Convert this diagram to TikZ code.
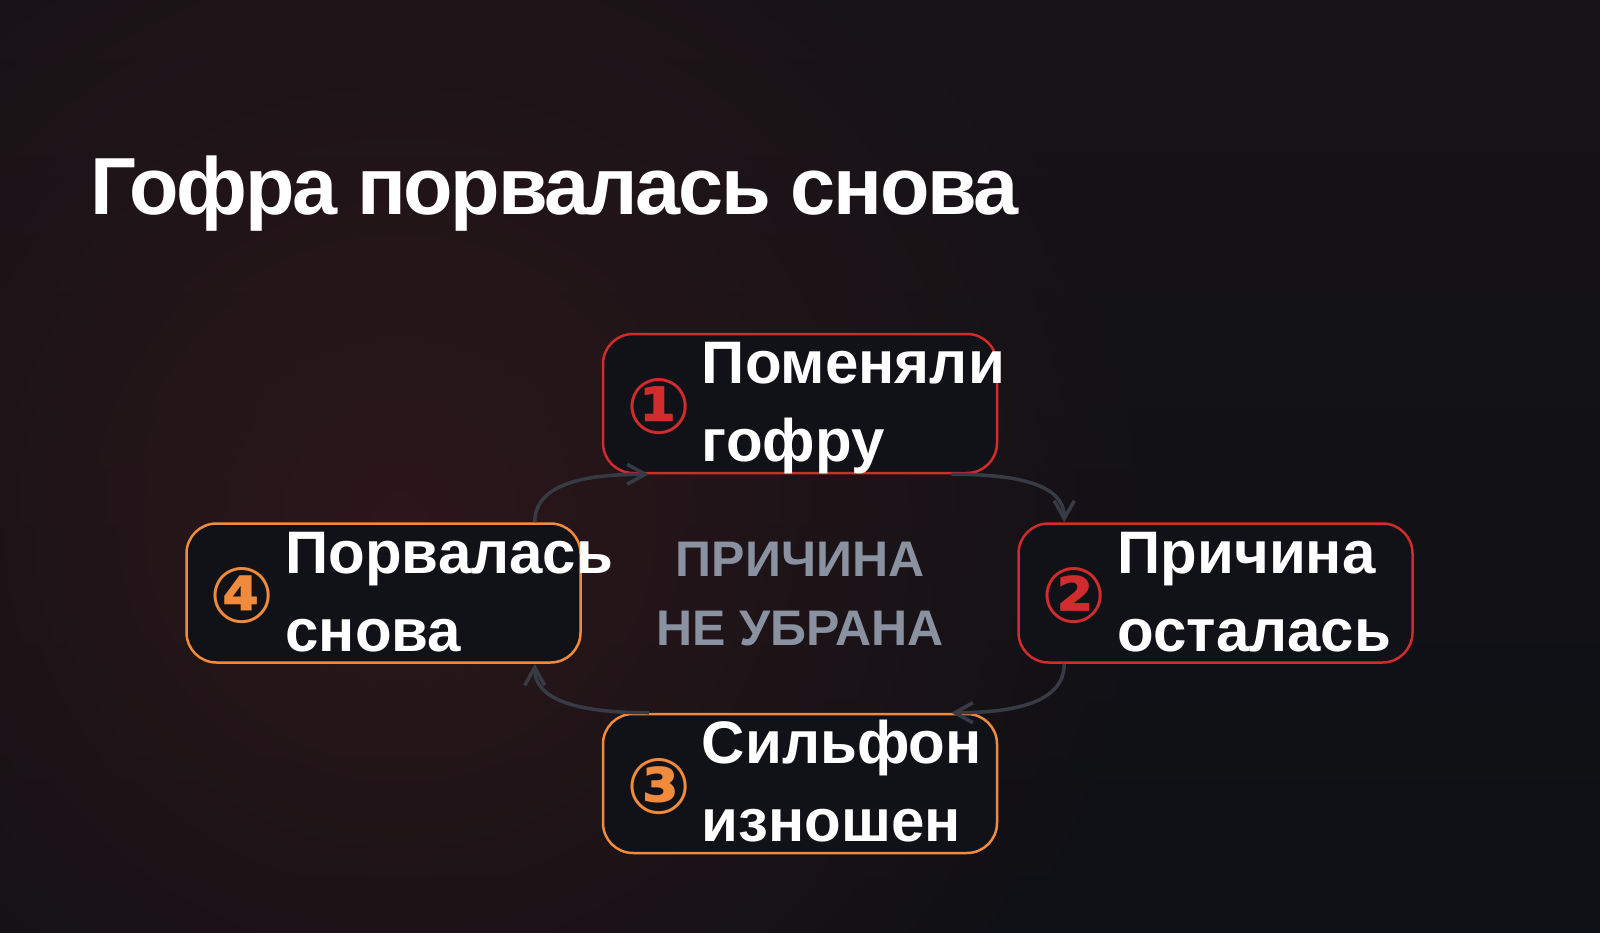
\documentclass[tikz,border=0pt]{standalone}
\usepackage{fontspec}
\setmainfont{Liberation Sans}
\newfontfamily\circfont{DejaVu Sans}
\usetikzlibrary{positioning,arrows.meta,fadings}

\definecolor{bgtop}{HTML}{161317}
\definecolor{bgbottom}{HTML}{0E1015}
\definecolor{bgglow}{HTML}{2C171A}
\definecolor{boxfill}{HTML}{111217}
\definecolor{stepred}{HTML}{D02B2D}
\definecolor{steporange}{HTML}{F08A3C}
\definecolor{loopgray}{HTML}{363B45}
\definecolor{causegray}{HTML}{8A92A2}

\tikzfading[name=glowfade, inner color=transparent!0, outer color=transparent!100]

\begin{document}
\begin{tikzpicture}[x=1pt, y=-1pt,
  stepbox/.style={rounded corners=30pt, fill=boxfill, line width=2.5pt,
    minimum width=394pt, minimum height=139pt, inner sep=0pt},
  steptext/.style={anchor=base west, align=left, inner sep=0pt, text=white,
    font=\fontsize{60}{78}\selectfont\bfseries},
  stepnum/.style={inner sep=0pt, font=\circfont\fontsize{77}{77}\selectfont\bfseries},
  cyclearrow/.style={draw=loopgray, line width=3.5pt,
    -{Straight Barb[length=18pt,width=20pt]}}
]
  % Background
  \useasboundingbox (0,0) rectangle (1600,933);
  \shade[top color=bgtop, bottom color=bgbottom] (0,0) rectangle (1600,933);
  \fill[bgglow, path fading=glowfade] (400,520) circle (760);

  % Title
  \node[anchor=base west, inner sep=0pt, text=white,
    font=\fontsize{81}{81}\selectfont\bfseries\addfontfeature{LetterSpace=-3}] (title) at (90,215) {Гофра порвалась снова};

  % Steps
  \foreach \i/\x/\y/\col/\digit/\txt in {1/800/403.5/stepred/①/{Поменяли\\гофру},
      2/1215.5/593/stepred/②/{Причина\\осталась},
      3/800/783.5/steporange/③/{Сильфон\\изношен},
      4/383.5/593/steporange/④/{Порвалась\\снова}}
  {
    \node[stepbox, draw=\col] (box-\i) at (\x,\y) {};
    \node[stepnum, text=\col] (num-\i) at ([xshift=57pt, yshift=-3pt]box-\i.west) {\digit};
    \node[steptext] (text-\i) at ([xshift=100pt, yshift=-129pt]box-\i.north west) {\txt};
  }

  % Middle
  \node[align=center, inner sep=0pt, text=causegray,
    font=\fontsize{50}{69}\selectfont\bfseries] (cause) at (800,594.5) {ПРИЧИНА\\НЕ УБРАНА};

  % Arrows
  \draw[cyclearrow] ([xshift=-47pt]box-4.north east) .. controls +(0,-40) and +(-60,0) .. ([xshift=47pt]box-1.south west);
  \draw[cyclearrow] ([xshift=-47pt]box-1.south east) .. controls +(60,0) and +(0,-40) .. ([xshift=47pt]box-2.north west);
  \draw[cyclearrow] ([xshift=47pt]box-2.south west) .. controls +(0,40) and +(60,0) .. ([xshift=-47pt]box-3.north east);
  \draw[cyclearrow] ([xshift=47pt]box-3.north west) .. controls +(-60,0) and +(0,40) .. ([xshift=-47pt]box-4.south east);

\end{tikzpicture}
\end{document}
